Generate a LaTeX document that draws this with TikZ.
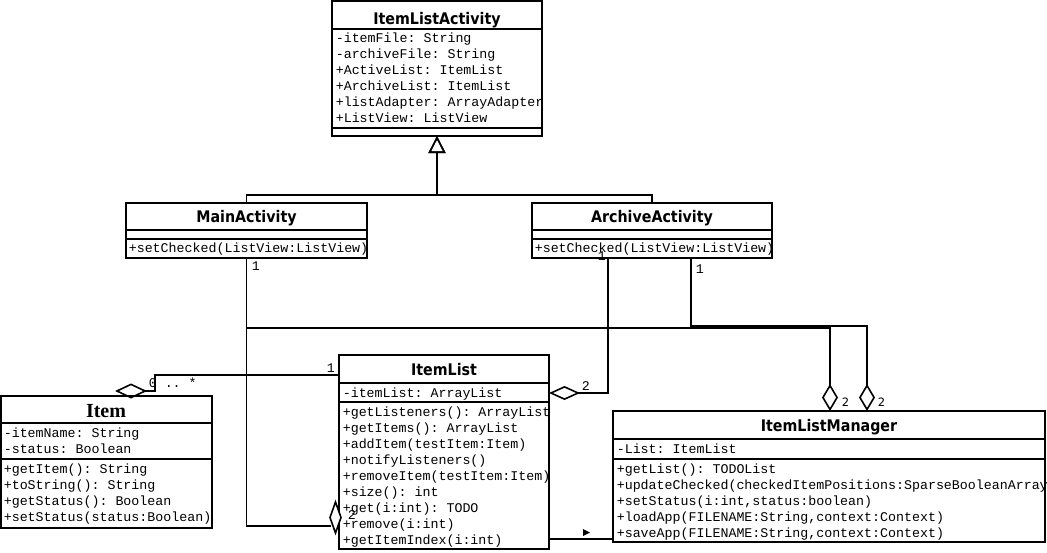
\documentclass[tikz,border=0pt]{standalone}
\usepackage{fontspec}
\setmonofont{Liberation Mono}
\newfontfamily\headfont[FakeStretch=0.89]{DejaVu Sans}
\newfontfamily\itemheadfont{Liberation Serif}
\newfontfamily\smalllabelfont{DejaVu Sans}
\usetikzlibrary{arrows.meta}

\begin{document}
\begin{tikzpicture}[x=1pt,y=-1pt,
  line width=1.6pt, line join=miter,
  classbox/.style 2 args={draw, line width=1.8pt, anchor=north west,
    minimum width=#1, minimum height=#2, inner sep=0pt, outer sep=0pt},
  member/.style={anchor=base west, inner sep=0pt,
    font=\fontsize{13.3}{16}\selectfont\ttfamily},
  classtitle/.style={anchor=base, inner sep=0pt,
    font=\fontsize{16}{18}\selectfont\headfont\bfseries},
  mult/.style={anchor=base west, inner sep=0pt,
    font=\fontsize{13.3}{16}\selectfont\ttfamily},
  multsans/.style={anchor=base west, inner sep=0pt,
    font=\fontsize{11.5}{13}\selectfont\smalllabelfont},
  aggtip/.style 2 args={-{Diamond[open,length=#1,width=#2]}},
  gentip/.style={-{Triangle[open,length=17pt,width=17pt]}},
]
\useasboundingbox (0,0) rectangle (1047,552);

% ---------------- class boxes ----------------
\node[classbox={210pt}{135pt}] (ILA) at (332,1) {};
\node[classbox={241pt}{55pt}]  (MA)  at (126,203) {};
\node[classbox={240pt}{55pt}]  (AA)  at (532,203) {};
\node[classbox={211pt}{132pt}] (IT)  at (1,396) {};
\node[classbox={210pt}{194pt}] (IL)  at (339,355) {};
\node[classbox={432pt}{131pt}] (IM)  at (613,411) {};

% compartment separators
\begin{scope}[line width=1.8pt]
\draw (ILA.west |- 0,29)  -- (ILA.east |- 0,29);
\draw (ILA.west |- 0,128) -- (ILA.east |- 0,128);
\draw (MA.west |- 0,230)  -- (MA.east |- 0,230);
\draw (MA.west |- 0,239)  -- (MA.east |- 0,239);
\draw (AA.west |- 0,230)  -- (AA.east |- 0,230);
\draw (AA.west |- 0,239)  -- (AA.east |- 0,239);
\draw (IT.west |- 0,423)  -- (IT.east |- 0,423);
\draw (IT.west |- 0,459)  -- (IT.east |- 0,459);
\draw (IL.west |- 0,383)  -- (IL.east |- 0,383);
\draw (IL.west |- 0,402)  -- (IL.east |- 0,402);
\draw (IM.west |- 0,439)  -- (IM.east |- 0,439);
\draw (IM.west |- 0,459)  -- (IM.east |- 0,459);
\end{scope}

% ---------------- titles ----------------
\node[classtitle] (ILA-t) at (437,24)    {ItemListActivity};
\node[classtitle] (MA-t)  at (246.5,222) {MainActivity};
\node[classtitle] (AA-t)  at (652,222)   {ArchiveActivity};
\node[classtitle] (IL-t)  at (444,375)   {ItemList};
\node[classtitle] (IM-t)  at (829,431)   {ItemListManager};
\node[anchor=base, inner sep=0pt, font=\fontsize{20}{22}\selectfont\itemheadfont\bfseries]
  (IT-t) at (106,417) {Item};

% ---------------- members ----------------
\foreach \t [count=\i] in {{-itemFile: String},{-archiveFile: String},
    {+ActiveList: ItemList},{+ArchiveList: ItemList},
    {+listAdapter: ArrayAdapter},{+ListView: ListView}}
  \node[member] (ILA-a\i) at (335,26+16*\i) {\t};

\node[member] (MA-m1) at (128,252) {+setChecked(ListView:ListView)};
\node[member] (AA-m1) at (534,252) {+setChecked(ListView:ListView)};

\foreach \t [count=\i] in {{-itemName: String},{-status: Boolean}}
  \node[member] (IT-a\i) at (3,421+16*\i) {\t};
\foreach \t [count=\i] in {{+getItem(): String},{+toString(): String},
    {+getStatus(): Boolean},{+setStatus(status:Boolean)}}
  \node[member] (IT-m\i) at (3,457+16*\i) {\t};

\node[member] (IL-a1) at (342,397) {-itemList: ArrayList};
\foreach \t [count=\i] in {{+getListeners(): ArrayList},{+getItems(): ArrayList},
    {+addItem(testItem:Item)},{+notifyListeners()},{+removeItem(testItem:Item)},
    {+size(): int},{+get(i:int): TODO},{+remove(i:int)},{+getItemIndex(i:int)}}
  \node[member] (IL-m\i) at (342,400+16.05*\i) {\t};

\node[member] (IM-a1) at (616,453) {-List: ItemList};
\foreach \t [count=\i] in {{+getList(): TODOList},
    {+updateChecked(checkedItemPositions:SparseBooleanArray)},
    {+setStatus(i:int,status:boolean)},
    {+loadApp(FILENAME:String,context:Context)},
    {+saveApp(FILENAME:String,context:Context)}}
  \node[member] (IM-m\i) at (616,457+16*\i) {\t};

% ---------------- generalization ----------------
\draw[gentip] (MA.north) -- ++(0,-8) -| (ILA.south);
\draw[gentip] (AA.north) -- ++(0,-8) -| (ILA.south);

% ---------------- aggregations ----------------
% ItemList -> Item
\draw[aggtip={32pt}{15pt}] (IL.west |- 0,375) -| (155,391) -- (115,391);
% MainActivity -> ItemList
\draw (MA.south) -- (MA.south |- 0,526) -- (331,526);
\draw[fill=white] (335.5,502) -- (341,517.5) -- (335.5,533) -- (330,517.5) -- cycle;
% MainActivity -> ItemListManager
\draw[aggtip={27pt}{16pt}] (MA.south |- 0,328) -| (830,0 |- IM.north);
% ArchiveActivity -> ItemList
\draw[aggtip={31pt}{14pt}] (608,0 |- AA.south) |- (IL.east |- 0,393);
% ArchiveActivity -> ItemListManager
\draw[aggtip={27pt}{16pt}] (691,0 |- AA.south) |- (867,326) -- (867,0 |- IM.north);

% ---------------- association ----------------
\draw (IL.east |- 0,539) -- (IM.west |- 0,539);
\fill (583,529) -- (590,532.5) -- (583,536) -- cycle;

% ---------------- multiplicities ----------------
\node[mult] (m-it-il)  at (326,372) {1};
\node[mult] (m-it-it)  at (148,387) {0 .. *};
\node[mult] (m-ma-1)   at (251,270) {1};
\node[mult] (m-ma-2)   at (347,519) {2};
\node[mult] (m-aa-1)   at (597,260) {1};
\node[mult] (m-aa-2)   at (695,273) {1};
\node[mult] (m-il-2)   at (581,390) {2};
\node[multsans] (m-im-1) at (841,406) {2};
\node[multsans] (m-im-2) at (877,406) {2};
\end{tikzpicture}
\end{document}
